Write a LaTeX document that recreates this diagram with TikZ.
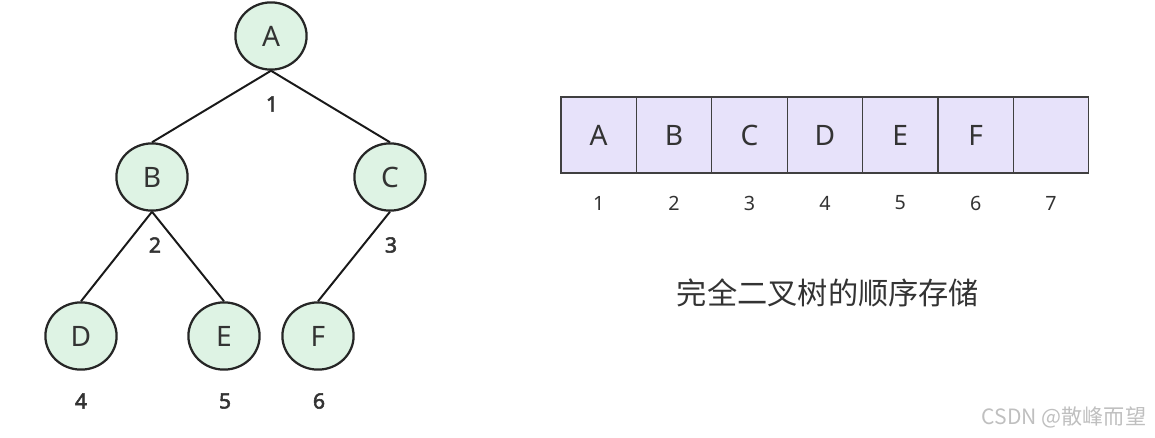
\documentclass[tikz,border=0pt]{standalone}
\usepackage{fontspec}
\setmainfont{Noto Sans}
\newfontfamily\cjkfont{Noto Sans CJK SC}
\newfontfamily\numfont{Noto Sans}[FakeBold=2.5]
\usetikzlibrary{positioning, shapes.geometric}

\definecolor{treefill}{RGB}{222,243,228}
\definecolor{cellfill}{RGB}{231,226,250}
\definecolor{inkgray}{RGB}{51,51,51}

\begin{document}
\begin{tikzpicture}[
        x=0.025cm, y=-0.025cm,
        treenode/.style={draw=black!85, ellipse, line width=1.6pt, fill=treefill, minimum width=1.78cm, minimum height=1.68cm, inner sep=0pt, text=inkgray, font=\fontsize{20}{24}\selectfont},
        branch/.style={draw=black!90, line width=1.4pt},
        idx/.style={text=inkgray, font=\numfont\fontsize{15}{18}\selectfont},
        cell/.style={draw=black!75, line width=0.9pt, fill=cellfill, minimum width=1.885cm, minimum height=1.9cm, inner sep=0pt, text=inkgray, font=\fontsize{20}{24}\selectfont},
        slot/.style={text=inkgray, font=\fontsize{14}{17}\selectfont},
    ]
        \useasboundingbox (0,0) rectangle (1155,437);

        % tree
        \node[treenode] (A) at (271,36)  {A};
        \node[treenode] (B) at (152,177) {B};
        \node[treenode] (C) at (390,177) {C};
        \node[treenode] (D) at (81,336)  {D};
        \node[treenode] (E) at (224,336) {E};
        \node[treenode] (F) at (318,336) {F};

        \draw[branch] (A.south) -- (B.north);
        \draw[branch] (A.south) -- (C.north);
        \draw[branch] (B.south) -- (D.north);
        \draw[branch] (B.south) -- (E.north);
        \draw[branch] (C.south) -- (F.north);

        \node[idx] (iA) at (272,104) {1};
        \node[idx] (iB) at (155,245) {2};
        \node[idx] (iC) at (391,245) {3};
        \node[idx] (iD) at (81,401)  {4};
        \node[idx] (iE) at (225,401) {5};
        \node[idx] (iF) at (319,401) {6};

        % array
        \foreach \t [count=\i] in {A,B,C,D,E,F,{}} {
            \node[cell] (c\i) at ({561+75.4*(\i-0.5)},135) {\t};
            \node[slot] (n\i) at ({561+75.4*(\i-0.5)},203) {\i};
        }

        \node[text=inkgray, font=\cjkfont\fontsize{21.5}{26}\selectfont] (cap) at (828,293) {完全二叉树的顺序存储};
        \node[text=black!25, font=\cjkfont\fontsize{15}{18}\selectfont] (mark) at (1064,417) {CSDN @散峰而望};
    \end{tikzpicture}
\end{document}
